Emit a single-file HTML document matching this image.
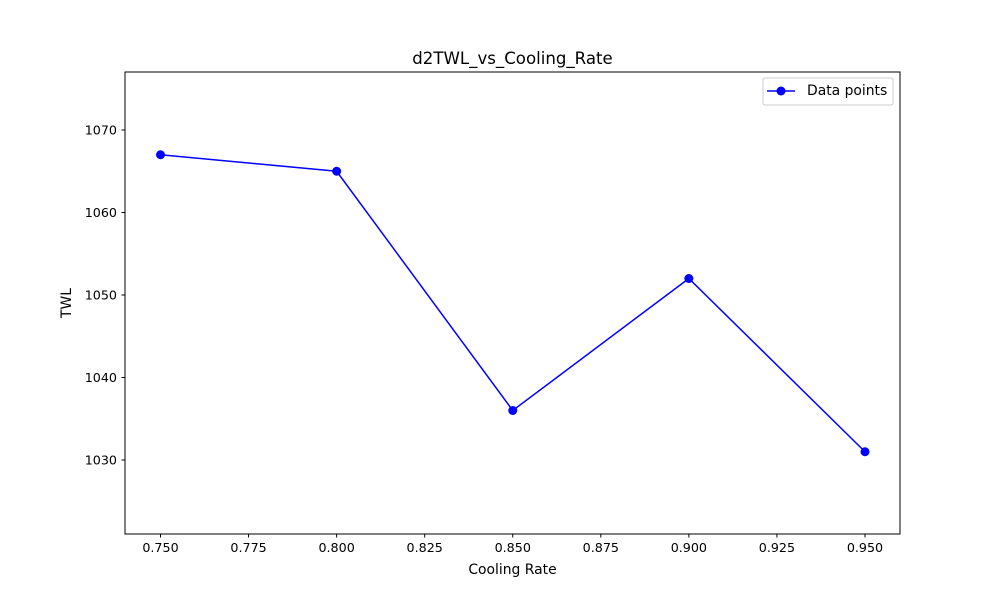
<!DOCTYPE html>
<html><head><meta charset="utf-8"><style>
body{margin:0;background:#fff;font-family:"Liberation Sans","DejaVu Sans",sans-serif;}
svg text{font-family:"DejaVu Sans","Liberation Sans",sans-serif;}
</style></head><body>
<svg id="chart" width="1000" height="600" xmlns="http://www.w3.org/2000/svg">
<rect width="1000" height="600" fill="#fff"/>
<text x="512.5" y="64" text-anchor="middle" font-size="16.6">d2TWL_vs_Cooling_Rate</text>
<text x="512.5" y="574" text-anchor="middle" font-size="13.9">Cooling Rate</text>
<text transform="translate(71,303) rotate(-90)" text-anchor="middle" font-size="13.9">TWL</text>
<g id="xt"></g><g id="yt"></g><g id="series"></g>
<rect x="125" y="72" width="775" height="462" fill="none" stroke="#000" stroke-width="1"/>
<g>
<rect x="763" y="78" width="130" height="27" rx="2" fill="#fff" stroke="#ccc"/>
<line x1="767" y1="91" x2="795" y2="91" stroke="#0000ff" stroke-width="1.5"/>
<circle cx="781" cy="91" r="4.5" fill="#0000ff"/>
<text x="807" y="95" font-size="13.9">Data points</text>
</g>
</svg>
<script>
const categories=[0.75,0.80,0.85,0.90,0.95];
const values=[1067,1065,1036,1052,1031];
const xTicks=[0.75,0.775,0.8,0.825,0.85,0.875,0.9,0.925,0.95];
const yTicks=[1030,1040,1050,1060,1070];
const NS="http://www.w3.org/2000/svg";
const xMin=0.73992,xMax=0.95994,yMin=1021.03,yMax=1077.03;
function sx(v){return 125+(v-xMin)/(xMax-xMin)*775;}
function sy(v){return 534-(v-yMin)/(yMax-yMin)*462;}
function mk(t,a,p){const e=document.createElementNS(NS,t);for(const k in a)e.setAttribute(k,a[k]);p.appendChild(e);return e;}
const xt=document.getElementById('xt'),yt=document.getElementById('yt'),sg=document.getElementById('series');
xTicks.forEach(v=>{const x=sx(v);
const l=mk('line',{x1:x,x2:x,y1:534,y2:537.5,stroke:'#000'},xt);


const t=mk('text',{x:x,y:552,'text-anchor':'middle','font-size':12.7},xt);t.textContent=v.toFixed(3);

});
yTicks.forEach(v=>{const y=sy(v);
const l=mk('line',{x1:121.5,x2:125,y1:y,y2:y,stroke:'#000'},yt);


const t=mk('text',{x:117,y:y+4.5,'text-anchor':'end','font-size':12.7},yt);t.textContent=v;

});
const pts=categories.map((c,i)=>sx(c)+','+sy(values[i])).join(' ');
const pl=mk('polyline',{points:pts,fill:'none',stroke:'#0000ff','stroke-width':1.5},sg);


categories.forEach((c,i)=>{const p=mk('circle',{cx:sx(c),cy:sy(values[i]),r:4.5,fill:'#0000ff'},sg);

});
</script>
</body></html>
